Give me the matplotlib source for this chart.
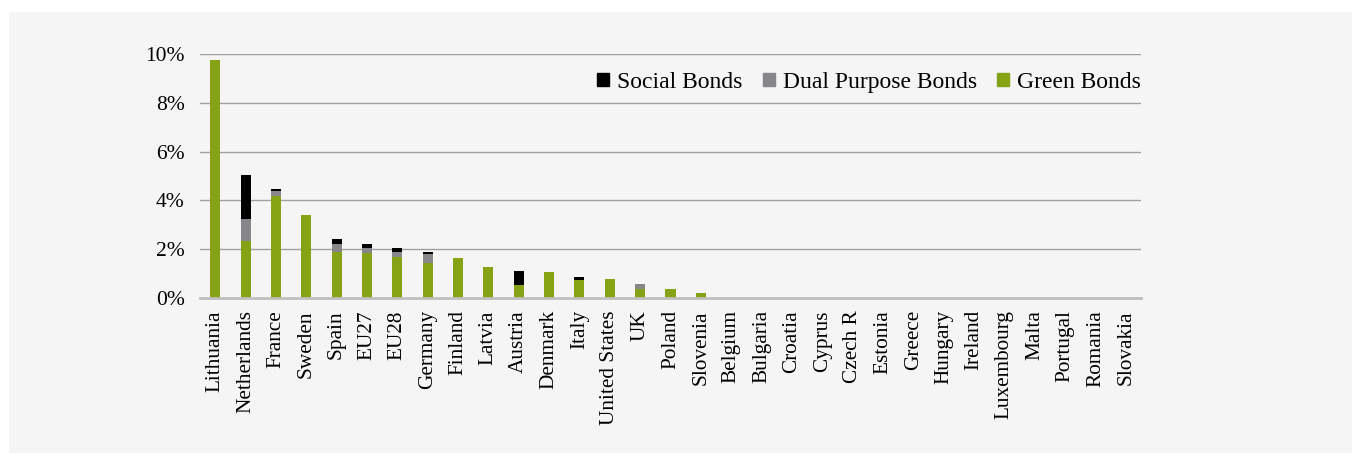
import matplotlib.pyplot as plt
import matplotlib.patches as mpatches
import numpy as np
from matplotlib.ticker import FuncFormatter

countries = ['Lithuania', 'Netherlands', 'France', 'Sweden', 'Spain', 'EU27', 'EU28',
             'Germany', 'Finland', 'Latvia', 'Austria', 'Denmark', 'Italy',
             'United States', 'UK', 'Poland', 'Slovenia', 'Belgium', 'Bulgaria',
             'Croatia', 'Cyprus', 'Czech R', 'Estonia', 'Greece', 'Hungary',
             'Ireland', 'Luxembourg', 'Malta', 'Portugal', 'Romania', 'Slovakia']

# shares in %
green = [9.77, 2.33, 4.19, 3.40, 1.89, 1.84, 1.67, 1.42, 1.63, 1.26, 0.52, 1.05, 0.74,
         0.77, 0.36, 0.36, 0.19, 0, 0, 0, 0, 0, 0, 0, 0, 0, 0, 0, 0, 0, 0]
dual = [0, 0.89, 0.21, 0, 0.32, 0.20, 0.21, 0.37, 0, 0, 0, 0, 0,
        0, 0.20, 0, 0, 0, 0, 0, 0, 0, 0, 0, 0, 0, 0, 0, 0, 0, 0]
social = [0, 1.82, 0.07, 0, 0.20, 0.17, 0.16, 0.09, 0, 0, 0.59, 0, 0.11,
          0, 0, 0, 0, 0, 0, 0, 0, 0, 0, 0, 0, 0, 0, 0, 0, 0, 0]

c_green = '#86A315'
c_dual = '#87878B'
c_social = '#000000'

plt.rcParams['font.family'] = ['Liberation Serif', 'DejaVu Serif']

fig = plt.figure(figsize=(13.6, 4.54), dpi=100)
fig.patches.append(mpatches.Rectangle((9 / 1360, 1 - 453 / 454), (1352 - 9) / 1360, (453 - 12) / 454,
                                      transform=fig.transFigure, facecolor='#F5F5F5',
                                      edgecolor='none', zorder=-10))
ax = fig.add_axes([200 / 1360, 1 - 297.7 / 454, 941 / 1360, 243.5 / 454])
ax.set_facecolor('none')

x = np.arange(len(countries))
g = np.array(green)
d = np.array(dual)
s = np.array(social)
w = 0.33
ax.bar(x, g, width=w, color=c_green, zorder=3)
ax.bar(x, d, width=w, bottom=g, color=c_dual, zorder=3)
ax.bar(x, s, width=w, bottom=g + d, color=c_social, zorder=3)

ax.set_xlim(-0.5, len(countries) - 0.5)
ax.set_ylim(0, 10)
ax.set_yticks([0, 2, 4, 6, 8, 10])
ax.yaxis.set_major_formatter(FuncFormatter(lambda v, p: '%d%%' % v))
ax.grid(axis='y', color='#A0A0A0', linewidth=1.0, zorder=0)
ax.set_xticks(x)
ax.set_xticklabels(countries, rotation=90, fontsize=15.3)
ax.tick_params(axis='y', length=0, pad=11, labelsize=15.5)
ax.tick_params(axis='x', length=0, pad=9)
for sp in ['top', 'right', 'left']:
    ax.spines[sp].set_visible(False)
ax.spines['bottom'].set_color('#BFBFBF')
ax.spines['bottom'].set_linewidth(2)
ax.spines['bottom'].set_zorder(4)

handles = [mpatches.Patch(color=c_social, label='Social Bonds'),
           mpatches.Patch(color=c_dual, label='Dual Purpose Bonds'),
           mpatches.Patch(color=c_green, label='Green Bonds')]
ax.legend(handles=handles, ncol=3, frameon=False, loc='center right',
          bbox_to_anchor=(1.0, 0.885), borderaxespad=0, borderpad=0,
          fontsize=17, handlelength=0.5, handleheight=0.5,
          handletextpad=0.35, columnspacing=0.85)

fig.savefig('out.png', dpi=100)
